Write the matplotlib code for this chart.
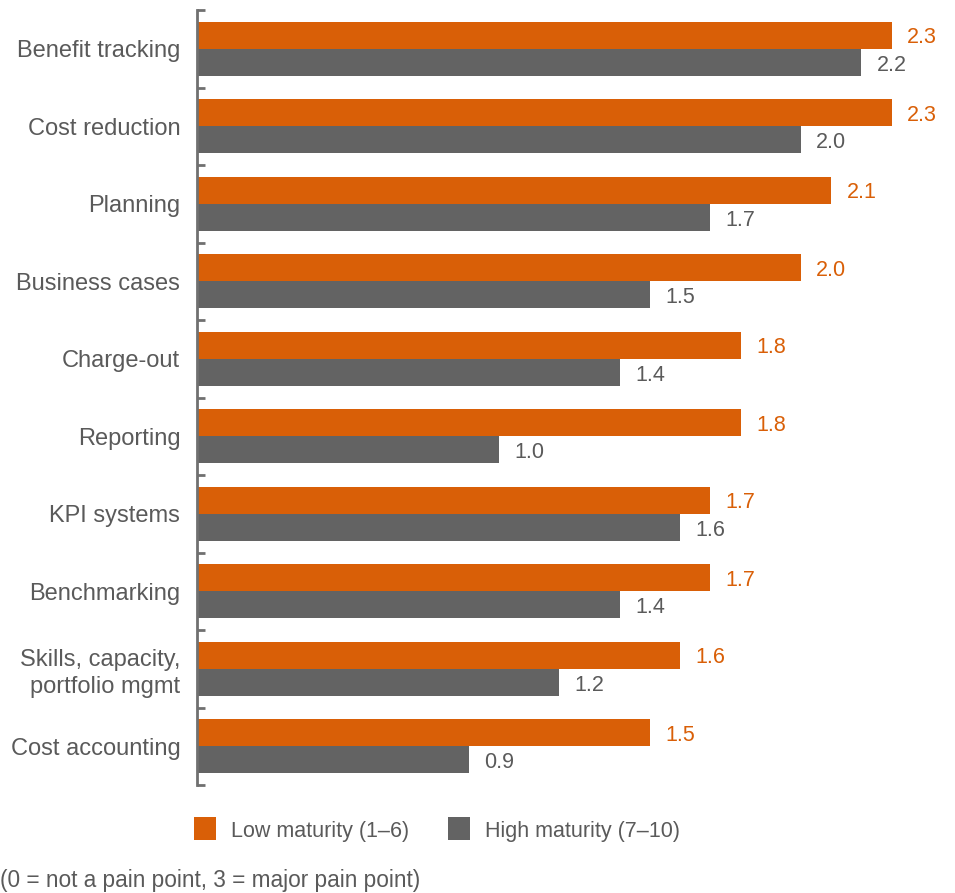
import numpy as np
import matplotlib
matplotlib.use("Agg")
import matplotlib.pyplot as plt
from matplotlib.patches import Rectangle

plt.rcParams["font.family"] = ["Liberation Sans", "DejaVu Sans"]

categories = ["Benefit tracking", "Cost reduction", "Planning", "Business cases",
              "Charge-out", "Reporting", "KPI systems", "Benchmarking",
              "Skills, capacity,\nportfolio mgmt", "Cost accounting"]
low_maturity = [2.3, 2.3, 2.1, 2.0, 1.8, 1.8, 1.7, 1.7, 1.6, 1.5]
high_maturity = [2.2, 2.0, 1.7, 1.5, 1.4, 1.0, 1.6, 1.4, 1.2, 0.9]
series_names = ["Low maturity (1\u20136)", "High maturity (7\u201310)"]
footnote = "(0 = not a pain point, 3 = major pain point)"

ORANGE = "#D95F07"
GRAY = "#636363"
TEXT = "#5a5a5a"

W, H = 955, 893
fig = plt.figure(figsize=(W / 100, H / 100), dpi=100)
ax = fig.add_axes([197 / W, 1 - 785 / H, (W - 197) / W, (785 - 10) / H])

y = np.arange(len(categories))
bh = 0.35
ax.barh(y - bh / 2, low_maturity, height=bh, color=ORANGE, linewidth=0)
ax.barh(y + bh / 2, high_maturity, height=bh, color=GRAY, linewidth=0)

# value labels, sitting slightly below bar centre like the original
for i, (lo, hi) in enumerate(zip(low_maturity, high_maturity)):
    ax.annotate(f"{lo:.1f}", (lo, i - bh / 2), xytext=(11, -2), textcoords="offset points",
                va="center", ha="left", fontsize=15.5, color=ORANGE)
    ax.annotate(f"{hi:.1f}", (hi, i + bh / 2), xytext=(11, -2), textcoords="offset points",
                va="center", ha="left", fontsize=15.5, color=TEXT)

ax.set_xlim(0, (W - 197) / 302)
ax.set_ylim(len(categories) - 0.5, -0.5)

for s in ["top", "right", "bottom"]:
    ax.spines[s].set_visible(False)
ax.spines["left"].set_color("#707070")
ax.spines["left"].set_linewidth(2)

ax.set_xticks([])
ax.set_yticks(y)
ax.set_yticklabels(categories, fontsize=17, color=TEXT, linespacing=1.3)
ax.tick_params(axis="y", which="major", length=0, pad=12)
ax.set_yticks(np.arange(-0.5, len(categories)), minor=True)
ax.tick_params(axis="y", which="minor", direction="in", length=6, width=2, color="#707070")

# legend
for x0, c, label in [(194, ORANGE, series_names[0]), (448, GRAY, series_names[1])]:
    fig.patches.append(Rectangle((x0 / W, 1 - 840 / H), 22 / W, 23 / H,
                                 transform=fig.transFigure, color=c, linewidth=0))
    fig.text((x0 + 37) / W, 1 - 831 / H, label, fontsize=15.5, color=TEXT, va="center", ha="left")

fig.text(0 / W, 1 - 881 / H, footnote, fontsize=16.3, color=TEXT, va="center", ha="left")

fig.savefig("out.png", dpi=100)
